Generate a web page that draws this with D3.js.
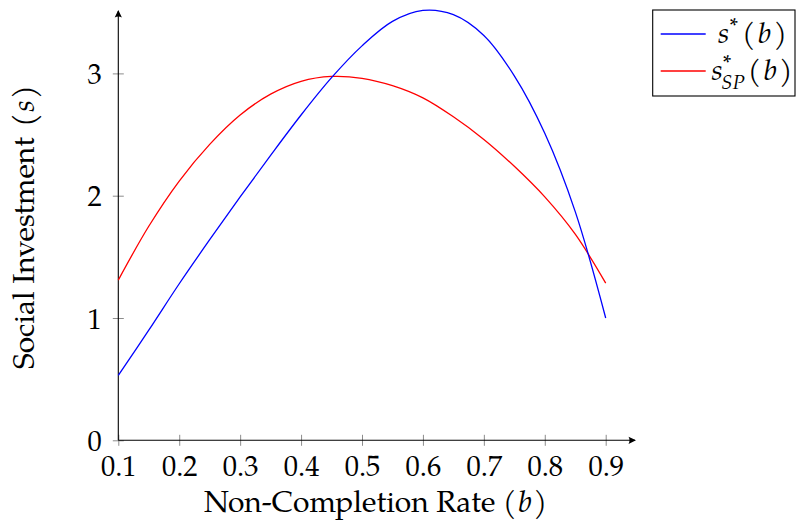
<!DOCTYPE html>
<html>
<head>
<meta charset="utf-8">
<script src="https://cdn.jsdelivr.net/npm/d3@7"></script>
<style>
  html, body { margin: 0; padding: 0; background: #fff; }
  svg { display: block; }
  text { font-family: "TeX Gyre Pagella", "P052", "Palatino Linotype", "Book Antiqua", Palatino, "Liberation Serif", serif; fill: #000; }
</style>
</head>
<body>
<svg id="chart" width="800" height="523"></svg>
<script>
// Non-completion rate b sampled every 0.05
const rates = [0.10, 0.15, 0.20, 0.25, 0.30, 0.35, 0.40, 0.45, 0.50,
               0.55, 0.60, 0.65, 0.70, 0.75, 0.80, 0.85, 0.90];
// Equilibrium social investment s*(b)
const equilibrium = [0.53, 0.90, 1.28, 1.64, 1.99, 2.33, 2.66, 2.965, 3.225,
                     3.425, 3.515, 3.48, 3.31, 2.98, 2.51, 1.87, 1.00];
// Social planner's investment s*_SP(b)
const planner = [1.31, 1.75, 2.12, 2.42, 2.66, 2.83, 2.935, 2.975, 2.96,
                 2.90, 2.80, 2.645, 2.46, 2.24, 1.99, 1.685, 1.285];
const xTicks = [0.1, 0.2, 0.3, 0.4, 0.5, 0.6, 0.7, 0.8, 0.9];
const yTicks = [0, 1, 2, 3];

const svg = d3.select("#chart");

const x = d3.scaleLinear().domain([0.1, 0.9]).range([118.3, 605.7]);
const y = d3.scaleLinear().domain([0, 3]).range([440.3, 73.4]);

const x0 = x(0.1), y0 = y(0);
const xEnd = 636, yEnd = 10;

// Tick marks (grey, straddling the axis lines)
const xAxis = d3.axisBottom(x).tickValues(xTicks).tickSize(0).tickFormat("");
const yAxis = d3.axisLeft(y).tickValues(yTicks).tickSize(0).tickFormat("");

const gx = svg.append("g").attr("transform", `translate(0,${y0})`).call(xAxis);
gx.select(".domain").remove();
gx.selectAll(".tick line").attr("y1", -5.5).attr("y2", 5.5)
  .attr("stroke", "#8c8c8c").attr("stroke-width", 1);
gx.selectAll(".tick").append("text")
  .attr("y", 35.5).attr("text-anchor", "middle")
  .style("font-size", "28.5px")
  .text(d => d3.format(".1f")(d));

const gy = svg.append("g").attr("transform", `translate(${x0},0)`).call(yAxis);
gy.select(".domain").remove();
gy.selectAll(".tick line").attr("x1", -5.5).attr("x2", 5.5)
  .attr("stroke", "#8c8c8c").attr("stroke-width", 1);
gy.selectAll(".tick").append("text")
  .attr("x", -16.5).attr("y", 10).attr("text-anchor", "end")
  .style("font-size", "28.5px")
  .text(d => d);

// Axis lines with arrow heads
svg.append("line").attr("x1", x0).attr("x2", xEnd - 1).attr("y1", y0).attr("y2", y0)
  .attr("stroke", "#000").attr("stroke-width", 1.1);
svg.append("line").attr("x1", x0).attr("x2", x0).attr("y1", y0).attr("y2", yEnd + 1)
  .attr("stroke", "#000").attr("stroke-width", 1.1);
const arrow = "M0,0 L-7.5,-3.6 Q-5.5,0 -7.5,3.6 Z";
svg.append("path").attr("d", arrow).attr("transform", `translate(${xEnd},${y0})`).attr("fill", "#000");
svg.append("path").attr("d", arrow).attr("transform", `translate(${x0},${yEnd}) rotate(-90)`).attr("fill", "#000");

// Curves
const line = d3.line()
  .x((d, i) => x(rates[i]))
  .y(d => y(d))
  .curve(d3.curveCatmullRom.alpha(0.5));

svg.append("path").datum(planner).attr("d", line)
  .attr("fill", "none").attr("stroke", "#ff0000").attr("stroke-width", 1.3);
svg.append("path").datum(equilibrium).attr("d", line)
  .attr("fill", "none").attr("stroke", "#0000ff").attr("stroke-width", 1.3);

// Axis titles
const xt = svg.append("text").attr("x", 375.5).attr("y", 511.5)
  .attr("text-anchor", "middle").style("font-size", "30px");
xt.append("tspan").text("Non-Completion Rate\u2005(");
xt.append("tspan").attr("dx", 1.5).style("font-style", "italic").text("b");
xt.append("tspan").attr("dx", 1.5).text(")");

const yt = svg.append("text")
  .attr("transform", "translate(33.5,227) rotate(-90)")
  .attr("text-anchor", "middle").style("font-size", "30px");
yt.append("tspan").text("Social Investment\u2004(");
yt.append("tspan").attr("dx", 1.5).style("font-style", "italic").text("s");
yt.append("tspan").attr("dx", 1.5).text(")");

// Legend
svg.append("rect").attr("x", 652.7).attr("y", 10).attr("width", 142.3).attr("height", 86)
  .attr("fill", "#fff").attr("stroke", "#000").attr("stroke-width", 1.1);

svg.append("line").attr("x1", 660.7).attr("x2", 705.7).attr("y1", 34).attr("y2", 34)
  .attr("stroke", "#0000ff").attr("stroke-width", 1.3);
svg.append("line").attr("x1", 660.7).attr("x2", 705.7).attr("y1", 71).attr("y2", 71)
  .attr("stroke", "#ff0000").attr("stroke-width", 1.3);

const l1 = svg.append("text").attr("x", 752.5).attr("y", 43)
  .attr("text-anchor", "middle").style("font-size", "29px");
l1.append("tspan").style("font-style", "italic").text("s");
l1.append("tspan").attr("dy", -10).style("font-size", "22px").text("*");
l1.append("tspan").attr("dy", 10).attr("dx", 4).text("(");
l1.append("tspan").attr("dx", 2.5).style("font-style", "italic").text("b");
l1.append("tspan").attr("dx", 2.5).text(")");

const l2 = svg.append("text").attr("x", 752).attr("y", 80)
  .attr("text-anchor", "middle").style("font-size", "29px");
l2.append("tspan").style("font-style", "italic").text("s");
l2.append("tspan").attr("dy", -10).style("font-size", "22px").text("*");
l2.append("tspan").attr("dx", -10).attr("dy", 19)
  .style("font-size", "20px").style("font-style", "italic").text("SP");
l2.append("tspan").attr("dy", -9).attr("dx", 3).text("(");
l2.append("tspan").attr("dx", 2.5).style("font-style", "italic").text("b");
l2.append("tspan").attr("dx", 2.5).text(")");
</script>
</body>
</html>
